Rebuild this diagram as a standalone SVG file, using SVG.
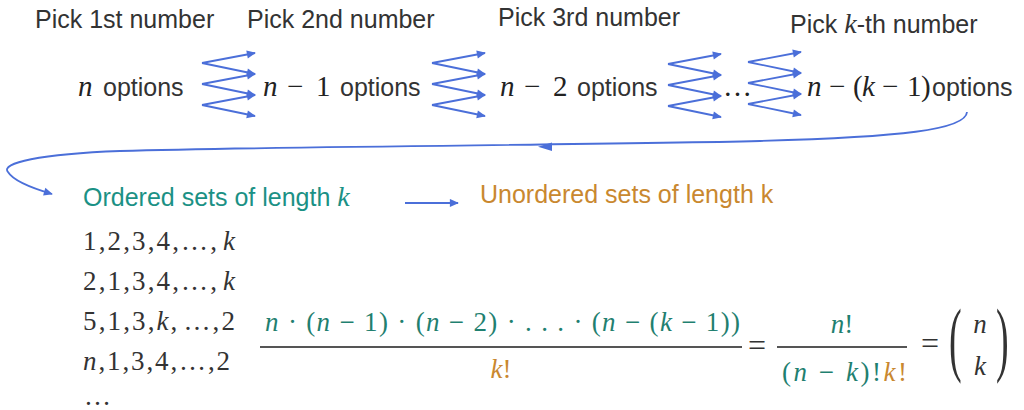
<svg xmlns="http://www.w3.org/2000/svg" xmlns:xlink="http://www.w3.org/1999/xlink" width="1024" height="410" viewBox="0 0 1024 410">
<style>
.sans{font-family:"Liberation Sans",Arial,sans-serif;font-size:25px;fill:#333}
.mi{font-family:"Liberation Serif","Times New Roman",serif;font-style:italic}
.mr{font-family:"Liberation Serif","Times New Roman",serif;font-style:normal}
.top{font-size:29px;fill:#222}
.low{font-family:"Liberation Serif","Times New Roman",serif;font-size:27px;fill:#333}
.eq{font-family:"Liberation Serif","Times New Roman",serif;font-size:32px;fill:#333}
.green{fill:#1b9185}
.fgreen{fill:#1f8070}
.orange{fill:#c9882f}
.conn{fill:none;stroke:#4b6fd9;stroke-width:1.8}
.bar{stroke:#555;stroke-width:2}
</style>
<defs>
<marker id="ah" viewBox="0 0 10 10" refX="9" refY="5" markerWidth="5.5" markerHeight="5" orient="auto" markerUnits="strokeWidth">
<path d="M0,0.5 L10,5 L0,9.5 z" fill="#4b6fd9"/>
</marker>
<g id="zig" class="conn">
<line x1="0" y1="10" x2="53" y2="0" marker-end="url(#ah)"/>
<line x1="0" y1="10" x2="53" y2="21" marker-end="url(#ah)"/>
<line x1="0" y1="31" x2="53" y2="21" marker-end="url(#ah)"/>
<line x1="0" y1="31" x2="53" y2="42" marker-end="url(#ah)"/>
<line x1="0" y1="52" x2="53" y2="42" marker-end="url(#ah)"/>
<line x1="0" y1="52" x2="53" y2="63" marker-end="url(#ah)"/>
</g>
</defs>
<rect width="1024" height="410" fill="#ffffff"/>

<g id="connectors">
<use xlink:href="#zig" href="#zig" transform="translate(202,53)"/>
<use xlink:href="#zig" href="#zig" transform="translate(432,53)"/>
<use xlink:href="#zig" href="#zig" transform="translate(668,54)"/>
<use xlink:href="#zig" href="#zig" transform="translate(748,52)"/>
<path class="conn" d="M967,112 C966,130 900,137 760,141 C600,145 300,146 120,151 C40,154 0,163 8,172 C14,182 35,189 52,194" marker-end="url(#ah)"/>
<path d="M538,146.8 L552,142.5 L552,151 z" fill="#4b6fd9"/>
<line class="conn" x1="405" y1="203" x2="458" y2="203" marker-end="url(#ah)"/>
</g>

<g id="pick1"><text class="sans" x="35" y="28">Pick 1st number</text></g>
<g id="pick2"><text class="sans" x="247" y="28">Pick 2nd number</text></g>
<g id="pick3"><text class="sans" x="498" y="26">Pick 3rd number</text></g>
<g id="pickk"><text class="sans" x="790" y="33">Pick <tspan class="mi" font-size="28" fill="#333">k</tspan>-th number</text></g>

<g id="opt1">
<text class="mi top" x="78" y="96">n</text>
<text class="sans" x="103" y="96">options</text>
</g>
<g id="opt2">
<text class="mi top" x="263" y="96">n</text>
<text class="mr top" x="287" y="96">−</text>
<text class="mr top" x="316" y="96">1</text>
<text class="sans" x="340" y="96">options</text>
</g>
<g id="opt3">
<text class="mi top" x="500" y="96">n</text>
<text class="mr top" x="524" y="96">−</text>
<text class="mr top" x="553" y="96">2</text>
<text class="sans" x="577" y="96">options</text>
</g>
<g id="dots"><text class="mr top" x="723" y="96">…</text></g>
<g id="optk">
<text class="mi top" x="807" y="96">n</text>
<text class="mr top" x="829" y="96">−</text>
<text class="mr top" x="853" y="96">(</text>
<text class="mi top" x="862" y="96">k</text>
<text class="mr top" x="882" y="96">−</text>
<text class="mr top" x="907" y="96">1</text>
<text class="mr top" x="921" y="96">)</text>
<text class="sans" x="932" y="96">options</text>
</g>

<g id="ordered"><text class="sans green" x="83" y="206">Ordered sets of length <tspan class="mi" font-size="28">k</tspan></text></g>
<g id="unordered"><text class="sans orange" x="480" y="203">Unordered sets of length k</text></g>

<g id="list">
<text class="low" x="83" y="250" textLength="152" lengthAdjust="spacing">1,2,3,4,…,<tspan class="mi" dx="4">k</tspan></text>
<text class="low" x="83" y="290" textLength="152" lengthAdjust="spacing">2,1,3,4,…,<tspan class="mi" dx="4">k</tspan></text>
<text class="low" x="83" y="330" textLength="152" lengthAdjust="spacing">5,1,3,<tspan class="mi">k</tspan>,<tspan dx="4">…,2</tspan></text>
<text class="low" x="83" y="370" textLength="147" lengthAdjust="spacing"><tspan class="mi">n</tspan>,1,3,4,…,2</text>
<text class="low" x="84" y="405">…</text>
</g>

<g id="formula">
<text class="low fgreen" x="265" y="331" textLength="475" lengthAdjust="spacing"><tspan class="mi">n</tspan> · (<tspan class="mi">n</tspan> − 1) · (<tspan class="mi">n</tspan> − 2) · . . . · (<tspan class="mi">n</tspan> − (<tspan class="mi">k</tspan> − 1))</text>
<line class="bar" x1="260" y1="347" x2="742" y2="347"/>
<text class="low orange" x="501" y="378" text-anchor="middle"><tspan class="mi">k</tspan>!</text>
<text class="eq" x="757" y="356" text-anchor="middle">=</text>
<text class="low fgreen" x="842" y="333" text-anchor="middle"><tspan class="mi">n</tspan>!</text>
<line class="bar" x1="777" y1="347" x2="907" y2="347"/>
<text class="low fgreen" x="782" y="381" textLength="125" lengthAdjust="spacing">(<tspan class="mi">n</tspan> − <tspan class="mi">k</tspan>)!<tspan class="mi orange">k</tspan><tspan class="orange">!</tspan></text>
<text class="eq" x="930" y="354" text-anchor="middle">=</text>
<text class="mr" font-size="38" fill="#333" transform="translate(949,366) scale(1,2.15)">(</text>
<text class="mr" font-size="38" fill="#333" transform="translate(996,366) scale(1,2.15)">)</text>
<text class="low mi" x="980" y="333" text-anchor="middle">n</text>
<text class="low mi" x="980" y="375" text-anchor="middle">k</text>
</g>
</svg>
